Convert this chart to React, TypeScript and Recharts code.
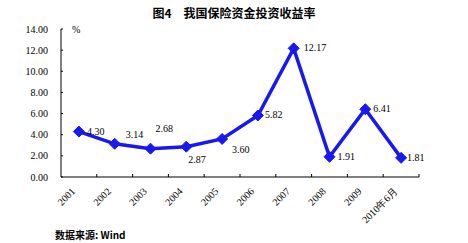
import React from "react";
import { LineChart, Line, XAxis, YAxis, LabelList } from "recharts";

const categories = ["2001", "2002", "2003", "2004", "2005", "2006", "2007", "2008", "2009", "2010年6月"];
const returns = [4.3, 3.14, 2.68, 2.87, 3.6, 5.82, 12.17, 1.91, 6.41, 1.81];
const yTicks = [0, 2, 4, 6, 8, 10, 12, 14];
const title = "图4　我国保险资金投资收益率";
const source = "数据来源: Wind";
const unit = "%";

// label placement offsets (style only)
const labelOffsets: [number, number][] = [
  [8, 0], [11, -9], [5, -20], [2, 13], [10, 11], [7, -1], [10, -1], [8, 0], [8, -1], [6, 0],
];

const data = categories.map((c, i) => ({ year: c, value: returns[i] }));

const W = 468;
const H = 243;
const PLOT_LEFT = 61;
const PLOT_RIGHT = 419;
const PLOT_TOP = 29;
const PLOT_BOTTOM = 177;
const BAND = (PLOT_RIGHT - PLOT_LEFT) / categories.length;
const BLUE = "#1818f0";
const SERIF = "'Liberation Serif', 'DejaVu Serif', serif";

const Diamond = (props: any) => {
  const { cx, cy } = props;
  if (cx == null || cy == null) return null;
  const s = 5.5;
  return (
    <polygon
      points={`${cx},${cy - s} ${cx + s},${cy} ${cx},${cy + s} ${cx - s},${cy}`}
      fill={BLUE}
      stroke={BLUE}
      strokeWidth={1}
    />
  );
};

const XTick = (props: any) => {
  const { x, payload } = props;
  const axisY = PLOT_BOTTOM;
  const ax = x - 3;
  const ay = axisY + 15;
  return (
    <g>
      <line x1={x + BAND / 2} y1={axisY} x2={x + BAND / 2} y2={axisY - 3} stroke="#000" strokeWidth={1} />
      <text
        x={ax}
        y={ay}
        transform={`rotate(-45, ${ax}, ${ay})`}
        textAnchor="end"
        fontSize={10}
        fontFamily={SERIF}
        fill="#000"
      >
        {payload.value}
      </text>
    </g>
  );
};

const YTick = (props: any) => {
  const { y, payload } = props;
  return (
    <g>
      <line x1={PLOT_LEFT} y1={y} x2={PLOT_LEFT + 2} y2={y} stroke="#000" strokeWidth={1} />
      <text x={48} y={y} dy={3.5} textAnchor="end" fontSize={10} fontFamily={SERIF} fill="#000">
        {Number(payload.value).toFixed(2)}
      </text>
    </g>
  );
};

const PointLabel = (props: any) => {
  const { x, y, value, index } = props;
  const [dx, dy] = labelOffsets[index] || [8, 0];
  return (
    <text x={x + dx} y={y + dy} dy={3.5} textAnchor="start" fontSize={10} fontFamily={SERIF} fill="#000">
      {Number(value).toFixed(2)}
    </text>
  );
};

export default function App() {
  return (
    <div style={{ position: "absolute", left: 0, top: 0, width: W, height: H, background: "#fff" }}>
      <div
        style={{
          position: "absolute",
          left: 0,
          top: 5,
          width: W,
          textAlign: "center",
          fontFamily: "'Noto Sans CJK SC', sans-serif",
          fontWeight: 700,
          fontSize: 12,
          lineHeight: "16px",
          color: "#000",
        }}
      >
        {title}
      </div>
      <div
        style={{
          position: "absolute",
          left: 72,
          top: 24,
          fontFamily: SERIF,
          fontSize: 10,
          color: "#000",
        }}
      >
        {unit}
      </div>
      <div
        style={{
          position: "absolute",
          left: 55,
          top: 228,
          fontFamily: "'Noto Sans CJK SC', monospace",
          fontWeight: 700,
          fontSize: 10,
          lineHeight: "14px",
          color: "#000",
        }}
      >
        {source}
      </div>
      <LineChart
        width={W}
        height={H}
        data={data}
        margin={{ top: PLOT_TOP, right: W - PLOT_RIGHT, left: 0, bottom: 0 }}
      >
        <XAxis
          dataKey="year"
          height={H - PLOT_BOTTOM}
          tickLine={false}
          axisLine={{ stroke: "#000", strokeWidth: 1 }}
          tick={<XTick />}
          interval={0}
          padding={{ left: BAND / 2, right: BAND / 2 }}
        />
        <YAxis
          width={PLOT_LEFT}
          domain={[0, 14]}
          ticks={yTicks}
          tickLine={false}
          axisLine={{ stroke: "#000", strokeWidth: 1 }}
          tick={<YTick />}
          interval={0}
        />
        <Line
          type="linear"
          dataKey="value"
          stroke={BLUE}
          strokeWidth={3.5}
          dot={<Diamond />}
          activeDot={false}
          isAnimationActive={false}
        >
          <LabelList dataKey="value" content={<PointLabel />} />
        </Line>
      </LineChart>
    </div>
  );
}
